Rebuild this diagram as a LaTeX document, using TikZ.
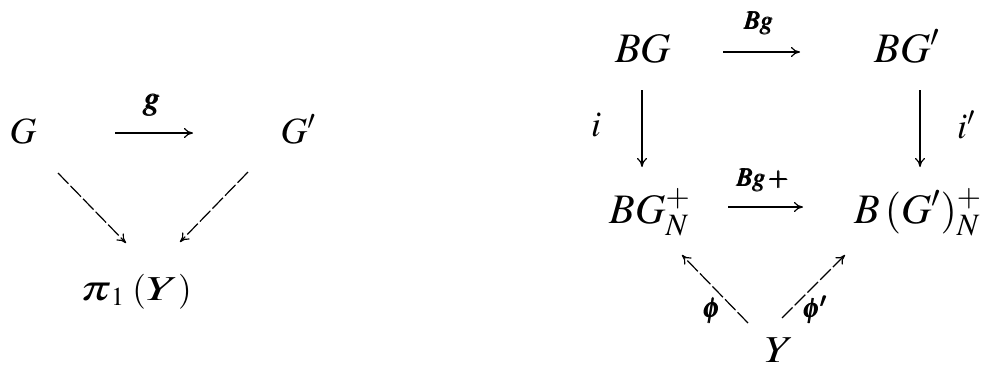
\documentclass[tikz,border=0pt]{standalone}
\usepackage{mathptmx}
\usepackage{amsmath}
\usepackage{graphicx}
\usetikzlibrary{arrows.meta}
\begin{document}
\begin{tikzpicture}[x=1pt,y=-1pt,
  objL/.style={anchor=base,inner sep=0pt,font=\fontsize{37}{42}\selectfont},
  objR/.style={anchor=base,inner sep=0pt,font=\fontsize{42}{50}\selectfont},
  lab/.style={inner sep=0pt,font=\fontsize{24}{28}\selectfont},
  arr/.style={line width=1.2pt,-{To[length=9pt,width=10pt]}},
  darr/.style={arr,dash pattern=on 15pt off 3pt}]
\useasboundingbox (0,0) rectangle (982,370);
% left diagram
\node[objL] (G) at (23,143) {$G$};
\node[objL] (Gp) at (298,143) {$G'$};
\node[objL,font=\fontsize{35}{40}\selectfont] (pi) at (136,300) {$\scalebox{1.4}[1]{$\pi$}_1\;(\scalebox{1.45}[1]{$Y$})$};
\coordinate (gS) at (115,133); \coordinate (gE) at (193,133);
\draw[arr] (gS) -- (gE);
\node[lab,font=\fontsize{33}{36}\selectfont] (g) at (152,105) {$\pmb{g}$};
\coordinate (l1S) at (58,173); \coordinate (l1E) at (126,243);
\coordinate (l2S) at (248,172); \coordinate (l2E) at (180,242);
\draw[darr] (l1S) -- (l1E);
\draw[darr] (l2S) -- (l2E);
% right diagram
\node[objR] (BG) at (643,62) {$BG$};
\node[objR] (BGp) at (907,62) {$BG'$};
\node[objR] (BGN) at (650,223) {$BG^{+}_{N}$};
\node[objR] (BGpN) at (918,223) {$B\,(G')^{+}_{N}$};
\node[objR,font=\fontsize{38}{44}\selectfont] (Y) at (779,362) {$\scalebox{1.2}[1]{$Y$}$};
\coordinate (bgS) at (723,52); \coordinate (bgE) at (800,52);
\draw[arr] (bgS) -- (bgE);
\node[lab,font=\fontsize{26}{30}\selectfont] (Bg) at (759,23) {$\pmb{Bg}$};
\coordinate (iS) at (642,90); \coordinate (iE) at (642,167);
\draw[arr] (iS) -- (iE);
\node[lab,font=\fontsize{36}{40}\selectfont] (i) at (596,125) {$i$};
\coordinate (ipS) at (920,90); \coordinate (ipE) at (920,167);
\draw[arr] (ipS) -- (ipE);
\node[lab,font=\fontsize{36}{40}\selectfont] (ip) at (966,125) {$i'$};
\coordinate (bpS) at (728,207); \coordinate (bpE) at (803,207);
\draw[arr] (bpS) -- (bpE);
\node[lab,font=\fontsize{26}{30}\selectfont] (Bgp) at (763,180) {$\pmb{Bg}\,\pmb{+}$};
\coordinate (phS) at (748,323); \coordinate (phE) at (682,255);
\draw[darr] (phS) -- (phE);
\coordinate (ppS) at (782,318); \coordinate (ppE) at (845,255);
\draw[darr] (ppS) -- (ppE);
\node[lab,font=\fontsize{28}{30}\selectfont] (phi) at (712,311) {$\pmb{\phi}$};
\node[lab,font=\fontsize{28}{30}\selectfont] (phip) at (815,310) {$\pmb{\phi'}$};
\end{tikzpicture}
\end{document}
